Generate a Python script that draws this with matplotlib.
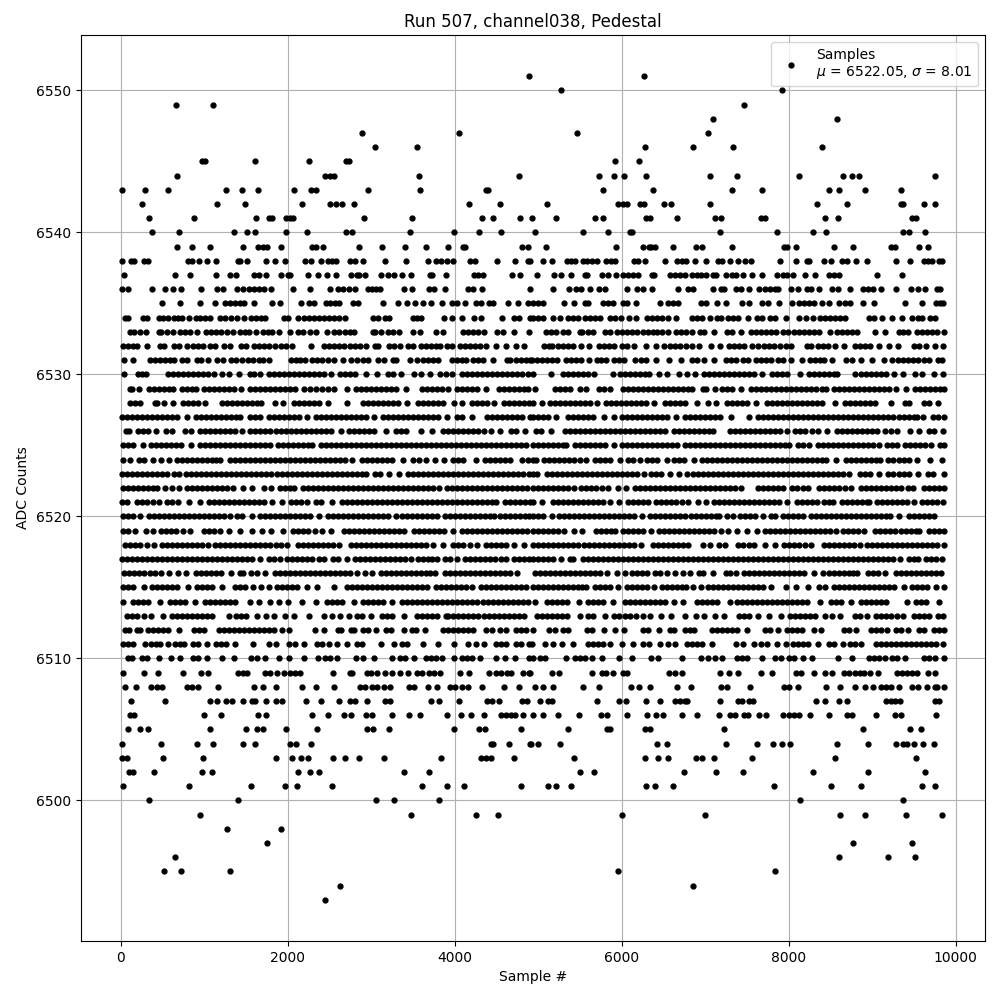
import matplotlib
matplotlib.use('Agg')
import matplotlib.pyplot as plt

# sample numbers, one list per ADC level
x_6551 = [4892, 6272]
x_6550 = [5276, 7916]
x_6549 = [664, 1108, 7460]
x_6548 = [7088, 8576]
x_6547 = [2884, 4048, 5468, 7028]
x_6546 = [3040, 3544, 6284, 6848, 7328, 8396]
x_6545 = [968, 1008, 1612, 2248, 2696, 2736, 5924, 6212]
x_6544 = [676, 2440, 2508, 2548, 3568, 4768, 5732, 5912, 6032, 6296, 7052, 7376, 8120, 8648, 8756, 8840, 9752]
x_6543 = [16, 292, 568, 1264, 1456, 1648, 2068, 2272, 2332, 2956, 3580, 4368, 4396, 5780, 6380, 7316, 7676, 8480, 8600, 8912, 9344]
x_6542 = [256, 1156, 1492, 2164, 2500, 2576, 2644, 2788, 4168, 4540, 5108, 5960, 6020, 6068, 6224, 6272, 6512, 6592, 7052, 8336, 8696, 9344, 9372, 9620, 9752]
x_6541 = [340, 880, 1624, 1780, 1816, 1972, 2028, 2056, 2908, 3484, 4324, 4456, 4780, 4928, 5216, 5684, 5780, 6296, 6340, 6668, 7112, 7184, 7664, 7712, 8432, 8588, 9476, 9524]
x_6540 = [376, 700, 1360, 1516, 1612, 1972, 2224, 2692, 2764, 3460, 3988, 4288, 4552, 4964, 5540, 5840, 6104, 6128, 7172, 7856, 8288, 8444, 9368, 9440, 9632]
x_6539 = [676, 856, 1072, 1468, 1648, 1708, 1756, 1912, 2284, 2332, 2416, 2848, 3124, 3400, 3652, 3916, 4096, 4124, 4804, 4876, 5096, 5936, 6260, 6332, 6356, 6404, 6620, 6884, 6956, 7316, 7940, 7976, 8084, 8540, 8768, 9224, 9272, 9560, 9668]
x_6538 = [14, 124, 160, 280, 328, 808, 856, 940, 1036, 1144, 1408, 1432, 1516, 1744, 1840, 1960, 2200, 2272, 2392, 2476, 2528, 2572, 2740, 2800, 2896, 3160, 3412, 3676, 3772, 3832, 3904, 3976, 4180, 4240, 4504, 4720, 4876, 4900, 5052, 5168, 5348, 5396, 5444, 5540, 5588, 5648, 5708, 5816, 5876, 5924, 6152, 6200, 6284, 6524, 6668, 6728, 6776, 6872, 7004, 7148, 7196, 7292, 7388, 7472, 7544, 7892, 8084, 8216, 8240, 8420, 8504, 8636, 8696, 8804, 8936, 9284, 9452, 9620, 9668, 9716, 9800, 9836]
x_6537 = [40, 652, 832, 1144, 1312, 1384, 1600, 1660, 1744, 1912, 1996, 2020, 2236, 2356, 2464, 2572, 2752, 2824, 2848, 2920, 3112, 3196, 3268, 3364, 3472, 3700, 3724, 3892, 4228, 4276, 4336, 4684, 4780, 4988, 5192, 5276, 5396, 5564, 5588, 5768, 5840, 5936, 6020, 6080, 6140, 6200, 6368, 6392, 6584, 6644, 6704, 6764, 6836, 6896, 6944, 7004, 7088, 7124, 7244, 7316, 7364, 7448, 7556, 7676, 7856, 7928, 7976, 8048, 8192, 8312, 8480, 8540, 8600, 9056, 9356]
x_6536 = [16, 88, 376, 532, 628, 724, 964, 1156, 1228, 1396, 1468, 1540, 1600, 1660, 1720, 1804, 2056, 2260, 2500, 2596, 2656, 2728, 2800, 2956, 3004, 3052, 3100, 3388, 3484, 3688, 3748, 3880, 4156, 4216, 4324, 4900, 5180, 5372, 5456, 5516, 5624, 5732, 5804, 6068, 6188, 6260, 6368, 6680, 6800, 6848, 7088, 7184, 7220, 7364, 7424, 7520, 7640, 7712, 7772, 7832, 7868, 8024, 8108, 8216, 8264, 8360, 8516, 8588, 8732, 8888, 8948, 9008, 9104, 9284, 9464, 9548, 9632, 9776, 9812]
x_6535 = [496, 712, 952, 1132, 1252, 1312, 1372, 1432, 1480, 1600, 1816, 1900, 2152, 2248, 2308, 2452, 2500, 2560, 2608, 2776, 2836, 3136, 3316, 3424, 3520, 3616, 3712, 3844, 3964, 4024, 4120, 4252, 4312, 4408, 4456, 4636, 4756, 4876, 4940, 5000, 5060, 5312, 5432, 5564, 5600, 5780, 5840, 5900, 6020, 6068, 6176, 6464, 6560, 6620, 6680, 6944, 7004, 7136, 7244, 7436, 7520, 7676, 7748, 7880, 8036, 8120, 8180, 8240, 8300, 8396, 8480, 8600, 8672, 8732, 8888, 9020, 9392, 9596, 9764, 9812, 9850]
x_6534 = [52, 88, 268, 316, 460, 508, 568, 640, 688, 736, 820, 904, 952, 1012, 1072, 1192, 1252, 1324, 1396, 1480, 1564, 1624, 1684, 1732, 1948, 1996, 2116, 2188, 2248, 2308, 2368, 2428, 2488, 2548, 2608, 2680, 3016, 3076, 3160, 3208, 3496, 3544, 3592, 3868, 3964, 4084, 4228, 4312, 4568, 4708, 4768, 4900, 4940, 5000, 5060, 5180, 5264, 5360, 5420, 5480, 5564, 5624, 5684, 5744, 5864, 5924, 5996, 6092, 6176, 6308, 6368, 6428, 6488, 6560, 6656, 6836, 6896, 6956, 7052, 7136, 7184, 7268, 7328, 7388, 7508, 7616, 7676, 7772, 7832, 7964, 8120, 8204, 8288, 8372, 8432, 8492, 8552, 8612, 8672, 8960, 9020, 9116, 9236, 9356, 9476, 9548, 9596, 9692, 9752]
x_6533 = [112, 160, 232, 304, 460, 484, 556, 628, 712, 772, 832, 916, 1024, 1084, 1144, 1204, 1276, 1348, 1432, 1492, 1540, 1624, 1708, 1768, 1816, 1888, 2020, 2116, 2176, 2260, 2340, 2464, 2548, 2608, 2680, 2740, 2788, 3016, 3040, 3112, 3196, 3256, 3328, 3496, 3580, 3772, 3856, 4096, 4156, 4216, 4276, 4348, 4504, 4576, 4708, 4888, 5096, 5156, 5216, 5300, 5360, 5504, 5528, 5600, 5660, 5804, 5864, 5948, 6008, 6068, 6128, 6188, 6260, 6320, 6380, 6428, 6488, 6560, 6656, 6716, 6776, 6836, 6932, 6980, 7100, 7256, 7316, 7424, 7544, 7604, 7664, 7724, 7784, 7844, 7928, 7988, 8060, 8120, 8180, 8240, 8300, 8360, 8492, 8576, 8636, 8696, 8756, 8816, 9040, 9160, 9320, 9368, 9428, 9536, 9596, 9656, 9716, 9776, 9860]
x_6532 = [28, 88, 148, 196, 316, 472, 520, 640, 700, 796, 868, 928, 988, 1072, 1132, 1240, 1312, 1444, 1504, 1600, 1660, 1720, 1780, 1840, 1912, 1972, 2044, 2272, 2428, 2488, 2548, 2608, 2668, 2740, 2800, 2860, 2932, 3040, 3076, 3208, 3268, 3340, 3436, 3496, 3592, 3652, 3712, 3772, 3820, 3904, 3964, 4060, 4120, 4180, 4240, 4300, 4372, 4492, 4612, 4732, 4828, 5072, 5132, 5168, 5240, 5300, 5360, 5420, 5516, 5612, 5732, 5792, 5852, 5912, 6008, 6068, 6152, 6296, 6416, 6512, 6584, 6644, 6704, 6776, 6836, 6920, 7064, 7172, 7280, 7340, 7400, 7460, 7556, 7628, 7700, 7760, 7820, 7892, 7964, 8024, 8216, 8264, 8348, 8408, 8468, 8552, 8660, 8792, 8852, 8912, 8972, 9080, 9200, 9308, 9500, 9560, 9644, 9752, 9848]
x_6531 = [40, 148, 352, 412, 472, 532, 592, 640, 736, 796, 916, 964, 1048, 1156, 1228, 1324, 1384, 1456, 1528, 1588, 1660, 1708, 1780, 2032, 2092, 2140, 2200, 2284, 2344, 2404, 2476, 2548, 2656, 2752, 2824, 2896, 2956, 3076, 3148, 3256, 3292, 3460, 3544, 3616, 3676, 3736, 3796, 3964, 4024, 4084, 4132, 4216, 4276, 4336, 4456, 4624, 4660, 4732, 4792, 4852, 4900, 4928, 4988, 5048, 5108, 5168, 5228, 5336, 5396, 5456, 5516, 5612, 5708, 5756, 5816, 5912, 5972, 6032, 6164, 6236, 6296, 6416, 6572, 6716, 6836, 6896, 6980, 7100, 7244, 7304, 7364, 7448, 7508, 7604, 7664, 7724, 7784, 7868, 7928, 8024, 8156, 8252, 8312, 8372, 8420, 8516, 8684, 8756, 8864, 8996, 9140, 9236, 9308, 9368, 9428, 9488, 9548, 9620, 9680, 9788, 9836]
x_6530 = [32, 204, 256, 304, 564, 624, 684, 744, 804, 864, 924, 984, 1044, 1112, 1208, 1296, 1412, 1544, 1600, 1672, 1772, 1832, 1892, 1952, 2012, 2072, 2132, 2192, 2252, 2312, 2372, 2432, 2512, 2624, 2684, 2744, 2804, 2932, 3068, 3204, 3264, 3360, 3512, 3592, 3708, 3828, 3900, 3972, 4084, 4144, 4204, 4264, 4324, 4384, 4444, 4504, 4564, 4624, 4684, 4744, 4804, 4872, 4936, 5148, 5296, 5356, 5416, 5476, 5536, 5596, 5664, 5892, 5984, 6044, 6104, 6164, 6224, 6284, 6324, 6448, 6544, 6688, 6784, 6876, 6988, 7048, 7108, 7168, 7228, 7288, 7348, 7408, 7468, 7528, 7588, 7684, 7796, 7856, 7916, 7984, 8132, 8240, 8300, 8360, 8420, 8480, 8540, 8584, 8792, 8864, 8924, 8984, 9044, 9104, 9164, 9264, 9364, 9516, 9600, 9740, 9848]
x_6529 = [104, 132, 220, 336, 396, 456, 516, 576, 624, 736, 796, 856, 896, 996, 1056, 1116, 1176, 1236, 1296, 1356, 1440, 1544, 1604, 1664, 1724, 1784, 1844, 1904, 1964, 2024, 2088, 2196, 2268, 2340, 2412, 2484, 2552, 2704, 2812, 2872, 2932, 2992, 3052, 3112, 3172, 3240, 3300, 3412, 3604, 3664, 3724, 3784, 3844, 3920, 4024, 4084, 4144, 4204, 4272, 4372, 4524, 4584, 4644, 4704, 4764, 4824, 4872, 4956, 5196, 5256, 5316, 5384, 5496, 5576, 5724, 5784, 5864, 6016, 6076, 6136, 6196, 6256, 6316, 6376, 6436, 6496, 6556, 6616, 6676, 6736, 6796, 6840, 6976, 7004, 7120, 7196, 7256, 7316, 7424, 7544, 7604, 7664, 7724, 7784, 7844, 7904, 7964, 8024, 8084, 8144, 8204, 8264, 8324, 8404, 8452, 8548, 8608, 8668, 8728, 8788, 8848, 8908, 8968, 9028, 9088, 9148, 9208, 9284, 9400, 9516, 9576, 9636, 9696, 9756, 9816, 9856]
x_6528 = [104, 164, 232, 404, 432, 520, 620, 744, 804, 864, 924, 1004, 1212, 1272, 1332, 1392, 1452, 1512, 1572, 1632, 1680, 1848, 1940, 2072, 2132, 2192, 2252, 2312, 2372, 2480, 2708, 2904, 2964, 3024, 3084, 3144, 3204, 3264, 3324, 3432, 3564, 3624, 3684, 3744, 3804, 3864, 3992, 4088, 4204, 4264, 4324, 4384, 4472, 4584, 4644, 4704, 4764, 4824, 4884, 4936, 5044, 5144, 5204, 5264, 5324, 5384, 5444, 5504, 5564, 5624, 5704, 5816, 5876, 5936, 5996, 6056, 6116, 6176, 6236, 6296, 6392, 6516, 6576, 6636, 6696, 6756, 6896, 7036, 7124, 7256, 7316, 7376, 7436, 7496, 7612, 7736, 7796, 7856, 7916, 7976, 8036, 8096, 8156, 8216, 8276, 8336, 8396, 8552, 8676, 8736, 8796, 8856, 8916, 8976, 9036, 9232, 9396, 9444, 9624, 9684, 9792]
x_6527 = [16, 76, 136, 196, 256, 316, 376, 436, 496, 556, 616, 676, 792, 896, 956, 1016, 1076, 1136, 1196, 1256, 1316, 1376, 1432, 1544, 1604, 1672, 1776, 1836, 1896, 1956, 2016, 2076, 2136, 2232, 2336, 2396, 2456, 2516, 2576, 2636, 2696, 2756, 2816, 2876, 2936, 3032, 3144, 3204, 3264, 3324, 3384, 3444, 3504, 3564, 3624, 3684, 3744, 3804, 3904, 4024, 4084, 4212, 4384, 4444, 4504, 4564, 4624, 4684, 4744, 4804, 4900, 4936, 4996, 5056, 5116, 5216, 5356, 5416, 5476, 5536, 5596, 5656, 5792, 5912, 6008, 6068, 6128, 6188, 6248, 6308, 6368, 6428, 6488, 6548, 6656, 6756, 6816, 6876, 6936, 6996, 7056, 7116, 7176, 7304, 7520, 7636, 7696, 7756, 7816, 7876, 7936, 7996, 8056, 8116, 8176, 8236, 8296, 8356, 8416, 8476, 8536, 8596, 8656, 8716, 8776, 8836, 8896, 8956, 9016, 9076, 9136, 9196, 9256, 9316, 9376, 9436, 9496, 9536, 9612, 9724, 9784, 9860]
x_6526 = [64, 100, 204, 264, 324, 424, 536, 612, 764, 840, 944, 1004, 1064, 1124, 1184, 1244, 1304, 1364, 1452, 1552, 1612, 1672, 1732, 1792, 1852, 1912, 1972, 2032, 2092, 2152, 2212, 2272, 2332, 2392, 2452, 2512, 2632, 2736, 2796, 2856, 2916, 2976, 3036, 3172, 3296, 3356, 3416, 3592, 3728, 3864, 3924, 3984, 4044, 4104, 4164, 4224, 4284, 4344, 4432, 4540, 4672, 4732, 4844, 4968, 5028, 5152, 5316, 5376, 5436, 5496, 5556, 5616, 5676, 5736, 5796, 5856, 5916, 5976, 6036, 6096, 6156, 6216, 6276, 6336, 6396, 6456, 6524, 6628, 6688, 6748, 6808, 6868, 6928, 6988, 7048, 7096, 7296, 7356, 7416, 7476, 7536, 7596, 7656, 7716, 7776, 7836, 7896, 7976, 8080, 8140, 8200, 8280, 8356, 8464, 8576, 8636, 8696, 8756, 8816, 8876, 8936, 8996, 9056, 9156, 9224, 9300, 9448, 9564, 9676, 9736, 9844]
x_6525 = [24, 84, 144, 260, 364, 424, 484, 544, 604, 664, 724, 844, 944, 1004, 1064, 1124, 1184, 1244, 1304, 1364, 1424, 1484, 1544, 1604, 1664, 1724, 1784, 1884, 1944, 2004, 2064, 2124, 2184, 2244, 2292, 2392, 2452, 2512, 2572, 2632, 2692, 2752, 2812, 2872, 2932, 2992, 3052, 3112, 3172, 3232, 3292, 3352, 3412, 3472, 3532, 3592, 3652, 3712, 3772, 3832, 3892, 3952, 4012, 4072, 4132, 4192, 4252, 4312, 4372, 4432, 4492, 4552, 4612, 4672, 4732, 4792, 4852, 4936, 4996, 5056, 5116, 5176, 5236, 5296, 5332, 5436, 5496, 5556, 5616, 5676, 5736, 5804, 5908, 6008, 6068, 6128, 6188, 6248, 6308, 6368, 6428, 6488, 6548, 6608, 6664, 6756, 6816, 6876, 6936, 6996, 7056, 7116, 7176, 7236, 7296, 7356, 7416, 7476, 7536, 7596, 7656, 7716, 7776, 7836, 7896, 7956, 8004, 8108, 8168, 8244, 8348, 8408, 8468, 8528, 8588, 8648, 8708, 8768, 8828, 8888, 8948, 9008, 9084, 9184, 9240, 9296, 9396, 9456, 9516, 9576, 9636, 9704, 9808, 9860]
x_6524 = [24, 112, 216, 276, 380, 484, 580, 676, 736, 796, 856, 916, 976, 1036, 1096, 1140, 1184, 1304, 1364, 1424, 1484, 1544, 1604, 1664, 1724, 1784, 1844, 1904, 1964, 2024, 2084, 2144, 2204, 2264, 2324, 2384, 2444, 2504, 2564, 2624, 2684, 2772, 2884, 2944, 3004, 3064, 3124, 3184, 3244, 3380, 3496, 3572, 3652, 3764, 3872, 3984, 4044, 4104, 4252, 4356, 4416, 4476, 4536, 4596, 4656, 4800, 4880, 4940, 4968, 5068, 5128, 5188, 5248, 5308, 5368, 5428, 5500, 5576, 5680, 5740, 5800, 5860, 5984, 6076, 6136, 6224, 6308, 6368, 6428, 6544, 6632, 6692, 6752, 6864, 6964, 7024, 7084, 7144, 7204, 7264, 7324, 7384, 7444, 7504, 7564, 7624, 7684, 7744, 7804, 7864, 7924, 7984, 8044, 8104, 8164, 8224, 8284, 8344, 8400, 8444, 8572, 8684, 8744, 8804, 8864, 8924, 8984, 9044, 9096, 9196, 9256, 9316, 9376, 9436, 9532, 9696, 9836]
x_6523 = [16, 76, 136, 196, 256, 316, 376, 436, 496, 556, 632, 692, 784, 844, 904, 964, 1024, 1084, 1144, 1204, 1264, 1324, 1384, 1444, 1504, 1564, 1624, 1684, 1744, 1804, 1864, 1924, 1984, 2044, 2104, 2164, 2224, 2284, 2344, 2404, 2464, 2524, 2584, 2644, 2704, 2764, 2824, 2884, 2932, 3044, 3104, 3212, 3332, 3436, 3496, 3556, 3616, 3676, 3736, 3796, 3856, 3916, 3976, 4036, 4096, 4156, 4216, 4276, 4336, 4396, 4456, 4516, 4576, 4636, 4696, 4756, 4816, 4888, 4932, 4988, 5104, 5164, 5224, 5284, 5344, 5404, 5464, 5524, 5584, 5644, 5704, 5764, 5824, 5884, 5944, 6004, 6064, 6124, 6184, 6264, 6356, 6416, 6476, 6584, 6688, 6788, 6848, 6908, 6968, 7028, 7088, 7148, 7208, 7268, 7328, 7388, 7448, 7508, 7568, 7628, 7688, 7748, 7808, 7868, 7928, 7988, 8048, 8108, 8168, 8228, 8288, 8348, 8408, 8468, 8528, 8588, 8648, 8724, 8856, 8916, 8976, 9084, 9196, 9256, 9316, 9376, 9436, 9544, 9668, 9728, 9860]
x_6522 = [24, 84, 144, 204, 264, 324, 384, 432, 528, 610, 692, 792, 852, 912, 972, 1032, 1092, 1152, 1212, 1272, 1344, 1460, 1576, 1716, 1804, 1904, 1964, 2020, 2072, 2184, 2244, 2304, 2364, 2424, 2484, 2544, 2604, 2664, 2724, 2784, 2844, 2904, 2964, 3024, 3084, 3144, 3204, 3264, 3324, 3384, 3444, 3504, 3564, 3624, 3684, 3744, 3812, 3904, 3964, 4024, 4084, 4144, 4204, 4264, 4324, 4384, 4444, 4504, 4564, 4624, 4684, 4744, 4804, 4864, 4936, 4996, 5056, 5116, 5176, 5236, 5296, 5360, 5424, 5516, 5576, 5636, 5696, 5766, 5836, 5956, 6052, 6160, 6220, 6280, 6340, 6400, 6460, 6520, 6580, 6640, 6700, 6760, 6820, 6880, 6940, 7000, 7060, 7120, 7180, 7240, 7300, 7360, 7424, 7636, 7696, 7756, 7816, 7876, 7936, 8036, 8096, 8166, 8236, 8368, 8428, 8488, 8548, 8608, 8680, 8752, 8864, 8924, 8984, 9044, 9104, 9164, 9224, 9284, 9344, 9424, 9484, 9616, 9676, 9736, 9796, 9856]
x_6521 = [14, 76, 192, 252, 312, 384, 460, 552, 610, 680, 816, 952, 1056, 1116, 1176, 1236, 1296, 1356, 1416, 1476, 1536, 1596, 1656, 1712, 1812, 1932, 2032, 2092, 2160, 2232, 2332, 2400, 2528, 2644, 2704, 2764, 2824, 2884, 2944, 3004, 3064, 3124, 3184, 3244, 3304, 3364, 3424, 3484, 3544, 3604, 3664, 3724, 3784, 3844, 3904, 3964, 4024, 4084, 4144, 4204, 4264, 4324, 4384, 4444, 4492, 4604, 4664, 4724, 4784, 4844, 4900, 4936, 5044, 5176, 5236, 5296, 5356, 5416, 5476, 5536, 5596, 5656, 5716, 5776, 5864, 5968, 6076, 6136, 6196, 6256, 6316, 6416, 6476, 6536, 6596, 6656, 6720, 6792, 6908, 7008, 7108, 7168, 7228, 7288, 7348, 7408, 7468, 7528, 7588, 7648, 7708, 7768, 7828, 7884, 7980, 8096, 8156, 8216, 8276, 8336, 8424, 8480, 8536, 8636, 8696, 8756, 8816, 8876, 8936, 8964, 9056, 9116, 9176, 9236, 9296, 9356, 9416, 9504, 9596, 9656, 9716, 9776, 9844]
x_6520 = [24, 84, 144, 232, 336, 396, 456, 516, 576, 636, 696, 756, 816, 876, 936, 996, 1056, 1116, 1176, 1236, 1312, 1392, 1452, 1572, 1664, 1724, 1784, 1844, 1904, 1964, 2024, 2084, 2144, 2204, 2264, 2372, 2484, 2544, 2604, 2664, 2724, 2784, 2844, 2904, 2964, 3024, 3084, 3144, 3204, 3292, 3372, 3432, 3492, 3552, 3612, 3672, 3732, 3792, 3884, 3944, 4004, 4064, 4124, 4184, 4244, 4304, 4364, 4424, 4472, 4540, 4600, 4660, 4720, 4780, 4840, 4890, 4936, 4996, 5056, 5164, 5248, 5308, 5368, 5428, 5488, 5548, 5608, 5668, 5728, 5788, 5848, 5908, 5968, 6028, 6088, 6148, 6244, 6344, 6404, 6464, 6524, 6584, 6644, 6704, 6764, 6824, 6884, 6944, 7004, 7064, 7124, 7164, 7256, 7336, 7416, 7476, 7536, 7596, 7696, 7784, 7832, 7928, 7988, 8048, 8108, 8172, 8264, 8324, 8384, 8444, 8504, 8564, 8624, 8684, 8744, 8804, 8864, 8924, 8984, 9044, 9104, 9164, 9216, 9324, 9436, 9496, 9556, 9616, 9676, 9736]
x_6519 = [24, 84, 172, 296, 380, 484, 544, 604, 664, 744, 824, 992, 1052, 1120, 1184, 1292, 1428, 1568, 1688, 1804, 1940, 2056, 2116, 2176, 2236, 2320, 2412, 2520, 2672, 2732, 2792, 2852, 2912, 2972, 3032, 3092, 3152, 3212, 3272, 3332, 3392, 3512, 3572, 3632, 3692, 3752, 3812, 3872, 3984, 4088, 4148, 4208, 4268, 4328, 4388, 4448, 4508, 4568, 4628, 4688, 4748, 4808, 4868, 4936, 4996, 5056, 5116, 5176, 5240, 5304, 5428, 5524, 5688, 5748, 5808, 5868, 5924, 6016, 6076, 6136, 6196, 6256, 6352, 6448, 6508, 6568, 6628, 6688, 6748, 6808, 6868, 6928, 6988, 7048, 7104, 7184, 7272, 7384, 7496, 7624, 7716, 7776, 7836, 7896, 7956, 8016, 8076, 8136, 8196, 8256, 8316, 8376, 8436, 8496, 8564, 8656, 8716, 8776, 8836, 8904, 9040, 9100, 9160, 9220, 9280, 9340, 9400, 9460, 9520, 9564, 9676, 9736, 9796, 9856]
x_6518 = [52, 112, 172, 232, 312, 392, 496, 556, 616, 676, 736, 796, 856, 916, 976, 1044, 1132, 1192, 1252, 1312, 1372, 1432, 1492, 1552, 1612, 1672, 1732, 1792, 1852, 1912, 1992, 2124, 2184, 2244, 2304, 2364, 2424, 2484, 2544, 2612, 2752, 2812, 2872, 2932, 2992, 3052, 3112, 3172, 3232, 3292, 3352, 3412, 3472, 3532, 3592, 3652, 3744, 3856, 3984, 4044, 4104, 4184, 4264, 4368, 4428, 4488, 4548, 4608, 4704, 4828, 4936, 4996, 5056, 5116, 5176, 5236, 5296, 5356, 5416, 5472, 5548, 5608, 5668, 5728, 5788, 5848, 5908, 5968, 6028, 6088, 6148, 6232, 6376, 6436, 6496, 6556, 6616, 6676, 6736, 6792, 6968, 7056, 7164, 7232, 7396, 7456, 7520, 7584, 7716, 7840, 7948, 8008, 8068, 8128, 8200, 8272, 8424, 8484, 8544, 8604, 8664, 8724, 8784, 8856, 8936, 8996, 9056, 9116, 9176, 9236, 9296, 9356, 9416, 9476, 9536, 9596, 9656, 9716, 9776, 9856]
x_6517 = [16, 76, 136, 196, 256, 316, 376, 436, 496, 556, 616, 676, 736, 796, 856, 916, 976, 1036, 1096, 1156, 1216, 1276, 1336, 1396, 1456, 1516, 1576, 1672, 1776, 1836, 1904, 1992, 2052, 2112, 2172, 2232, 2292, 2376, 2432, 2536, 2596, 2712, 2804, 2864, 2924, 2984, 3044, 3104, 3164, 3224, 3284, 3344, 3404, 3472, 3556, 3616, 3676, 3732, 3792, 3880, 3940, 4024, 4120, 4180, 4240, 4300, 4360, 4420, 4480, 4550, 4612, 4704, 4764, 4824, 4884, 4936, 4996, 5056, 5116, 5176, 5276, 5376, 5416, 5536, 5596, 5656, 5716, 5776, 5836, 5896, 5956, 6016, 6076, 6136, 6196, 6256, 6316, 6376, 6436, 6496, 6556, 6616, 6676, 6736, 6796, 6856, 6916, 6976, 7036, 7096, 7156, 7216, 7276, 7336, 7396, 7456, 7516, 7576, 7636, 7696, 7756, 7816, 7876, 7936, 7996, 8056, 8116, 8176, 8236, 8296, 8356, 8416, 8476, 8536, 8596, 8656, 8716, 8776, 8836, 8896, 8956, 9016, 9076, 9136, 9196, 9256, 9336, 9436, 9496, 9552, 9648, 9708, 9768, 9832]
x_6516 = [32, 92, 152, 212, 272, 352, 412, 480, 576, 684, 784, 904, 964, 1024, 1084, 1140, 1200, 1316, 1424, 1464, 1556, 1628, 1732, 1844, 1904, 1964, 2024, 2084, 2144, 2204, 2264, 2324, 2384, 2444, 2504, 2564, 2624, 2684, 2744, 2824, 2924, 3012, 3112, 3172, 3232, 3292, 3352, 3412, 3472, 3532, 3592, 3652, 3708, 3768, 3884, 3944, 4004, 4064, 4124, 4184, 4244, 4304, 4364, 4424, 4484, 4544, 4604, 4664, 4744, 4956, 5016, 5076, 5136, 5196, 5256, 5316, 5376, 5436, 5496, 5556, 5616, 5676, 5736, 5824, 5944, 6044, 6128, 6188, 6248, 6304, 6404, 6464, 6544, 6640, 6736, 6812, 6920, 6968, 7088, 7248, 7300, 7364, 7468, 7528, 7588, 7648, 7708, 7768, 7828, 7888, 7948, 8008, 8068, 8120, 8184, 8300, 8412, 8488, 8548, 8608, 8668, 8728, 8770, 8824, 8956, 9016, 9076, 9156, 9288, 9348, 9408, 9468, 9528, 9588, 9648, 9708, 9768, 9824]
x_6515 = [24, 84, 144, 280, 376, 436, 496, 556, 616, 676, 800, 912, 972, 1032, 1092, 1212, 1364, 1424, 1484, 1584, 1680, 1780, 1872, 1932, 1992, 2052, 2112, 2224, 2348, 2556, 2704, 2764, 2824, 2884, 2944, 3004, 3064, 3124, 3184, 3244, 3304, 3364, 3424, 3484, 3544, 3604, 3672, 3772, 3832, 3892, 3952, 4012, 4072, 4132, 4212, 4312, 4372, 4432, 4492, 4552, 4612, 4672, 4732, 4792, 4852, 4936, 4996, 5056, 5116, 5176, 5236, 5296, 5356, 5416, 5476, 5520, 5576, 5680, 5740, 5800, 5860, 5952, 6064, 6124, 6184, 6244, 6304, 6392, 6488, 6548, 6608, 6668, 6720, 6776, 6856, 6944, 7036, 7096, 7156, 7216, 7276, 7336, 7396, 7456, 7516, 7576, 7636, 7696, 7784, 7968, 8084, 8228, 8368, 8432, 8548, 8608, 8668, 8728, 8788, 8848, 8908, 8968, 9028, 9088, 9148, 9208, 9268, 9376, 9476, 9536, 9596, 9656, 9768, 9856]
x_6514 = [28, 144, 204, 264, 324, 464, 584, 644, 704, 764, 892, 1004, 1064, 1124, 1184, 1244, 1304, 1364, 1544, 1656, 1784, 1892, 2000, 2164, 2332, 2472, 2532, 2592, 2652, 2792, 2896, 2956, 3016, 3076, 3136, 3252, 3372, 3432, 3492, 3552, 3612, 3672, 3732, 3792, 3852, 3912, 3972, 4032, 4092, 4152, 4212, 4272, 4332, 4392, 4452, 4512, 4572, 4632, 4692, 4752, 4812, 4872, 4960, 5104, 5164, 5224, 5284, 5344, 5484, 5596, 5656, 5716, 5776, 5896, 6036, 6096, 6156, 6216, 6276, 6336, 6396, 6456, 6516, 6624, 6740, 6896, 6956, 7016, 7076, 7136, 7296, 7384, 7444, 7504, 7564, 7624, 7684, 7744, 7804, 7864, 7924, 7984, 8044, 8104, 8164, 8224, 8376, 8504, 8564, 8624, 8744, 8864, 8924, 8984, 9044, 9104, 9164, 9416, 9524, 9584, 9644, 9804]
x_6513 = [72, 132, 192, 272, 364, 504, 612, 672, 732, 792, 852, 912, 972, 1032, 1092, 1292, 1376, 1436, 1496, 1632, 1744, 1832, 1960, 2076, 2248, 2436, 2528, 2628, 2728, 2828, 2888, 3000, 3132, 3192, 3252, 3392, 3552, 3612, 3672, 3732, 3792, 3892, 3924, 3984, 4044, 4104, 4164, 4224, 4284, 4344, 4404, 4464, 4524, 4584, 4644, 4704, 4764, 4832, 4984, 5044, 5104, 5164, 5224, 5284, 5344, 5504, 5596, 5656, 5804, 5908, 5968, 6040, 6096, 6168, 6260, 6340, 6476, 6592, 6760, 6888, 6984, 7116, 7224, 7408, 7468, 7530, 7632, 7768, 7904, 8016, 8076, 8136, 8196, 8256, 8320, 8432, 8520, 8620, 8800, 8860, 8936, 9048, 9108, 9168, 9228, 9300, 9364, 9496, 9556, 9616, 9676, 9792, 9850]
x_6512 = [44, 92, 196, 232, 328, 388, 448, 508, 568, 692, 872, 930, 992, 1176, 1236, 1296, 1356, 1416, 1476, 1536, 1596, 1656, 1716, 1776, 1832, 1924, 2012, 2324, 2432, 2596, 2632, 2752, 2792, 2896, 2960, 3056, 3176, 3236, 3392, 3488, 3540, 3648, 3856, 3916, 3976, 4036, 4096, 4156, 4216, 4372, 4448, 4540, 4608, 4732, 4792, 4852, 4940, 5132, 5200, 5300, 5360, 5588, 5640, 5788, 5920, 6032, 6260, 6320, 6452, 6576, 6624, 6756, 6816, 6864, 7076, 7136, 7196, 7256, 7316, 7376, 7496, 7716, 7772, 7868, 7984, 8044, 8104, 8164, 8300, 8388, 8664, 8724, 8804, 8984, 9044, 9104, 9184, 9288, 9348, 9424, 9556, 9624, 9736, 9796, 9860]
x_6511 = [24, 84, 144, 292, 364, 424, 472, 564, 644, 704, 752, 864, 924, 1032, 1144, 1204, 1264, 1372, 1588, 1772, 1860, 2012, 2080, 2196, 2352, 2412, 2492, 2592, 2708, 2824, 2892, 3116, 3276, 3368, 3428, 3624, 3800, 3996, 4156, 4260, 4348, 4496, 4556, 4616, 4732, 4788, 4888, 4928, 5080, 5180, 5288, 5420, 5596, 5656, 5716, 5776, 5864, 6000, 6140, 6256, 6324, 6456, 6552, 6640, 6784, 6844, 6904, 6964, 7076, 7364, 7452, 7580, 7668, 7744, 7864, 7968, 8056, 8116, 8176, 8236, 8356, 8480, 8540, 8648, 8732, 8800, 8872, 9048, 9108, 9168, 9228, 9288, 9348, 9408, 9468, 9528, 9588, 9648, 9708, 9768, 9844]
x_6510 = [84, 132, 256, 316, 460, 600, 712, 864, 924, 1032, 1208, 1356, 1564, 1636, 1732, 1888, 2008, 2188, 2356, 2448, 2508, 2588, 2812, 2896, 3028, 3248, 3344, 3404, 3512, 3652, 3712, 3772, 3852, 3988, 4088, 4148, 4208, 4308, 4488, 4604, 4720, 4888, 4936, 5020, 5080, 5332, 5440, 5500, 5560, 5640, 5768, 5972, 6124, 6352, 6440, 6720, 6944, 7036, 7120, 7200, 7376, 7440, 7500, 7684, 7836, 7904, 8000, 8060, 8168, 8280, 8596, 8756, 8960, 9020, 9080, 9160, 9240, 9300, 9388, 9620, 9680, 9752, 9860]
x_6509 = [28, 280, 448, 748, 964, 1048, 1408, 1468, 1516, 1728, 1788, 1868, 1948, 2028, 2088, 2148, 2540, 2744, 2772, 2948, 2996, 3068, 3160, 3248, 3340, 3436, 3548, 3608, 3688, 3748, 3820, 4060, 4168, 4408, 4488, 4548, 4628, 4668, 4816, 4888, 4900, 5168, 5252, 5648, 5768, 5812, 5900, 6012, 6060, 6572, 6644, 6728, 7172, 7284, 7388, 7664, 7796, 8088, 8148, 8300, 8440, 8524, 8660, 8720, 8800, 8860, 8900, 8980, 9068, 9300, 9360, 9420, 9480, 9540, 9668, 9752]
x_6508 = [48, 180, 356, 428, 488, 796, 848, 928, 1168, 1600, 1708, 1852, 2168, 2332, 2548, 2860, 2928, 3008, 3068, 3148, 3220, 3448, 3508, 3676, 3784, 3948, 4008, 4084, 4156, 4328, 4592, 4768, 4960, 5060, 5180, 5540, 5724, 6112, 6212, 6344, 6668, 6832, 7184, 7260, 7532, 7940, 8000, 8108, 8444, 8612, 8792, 8916, 9012, 9108, 9172, 9228, 9320, 9480, 9552, 9660, 9752, 9780, 9860]
x_6507 = [124, 532, 1072, 1156, 1264, 1336, 1468, 1576, 1612, 1744, 1852, 1924, 2216, 2392, 2608, 2748, 2808, 2944, 3168, 3228, 3716, 3808, 4048, 4388, 4448, 4528, 4808, 4868, 5020, 5120, 5160, 5708, 5972, 6056, 6296, 6464, 6640, 6700, 6760, 6788, 7180, 7388, 7436, 7520, 7568, 8324, 8432, 8600, 8696, 9164, 9228, 9280, 9332, 9756, 9804]
x_6506 = [108, 160, 1000, 1204, 1648, 1744, 2288, 2476, 2668, 2752, 2932, 3004, 3244, 3448, 3580, 3904, 4072, 4192, 4348, 4548, 4608, 4668, 4720, 4812, 4940, 5056, 5240, 5492, 5756, 5828, 6068, 6308, 6416, 6500, 6728, 6896, 7160, 7300, 7360, 7460, 7508, 7640, 7732, 7928, 8000, 8060, 8120, 8252, 8480, 8700, 8756, 9044, 9272, 9344, 9764]
x_6505 = [88, 232, 328, 1072, 1504, 1636, 1708, 1972, 2344, 2944, 3016, 3208, 3988, 4288, 4360, 4792, 5360, 5828, 5864, 6276, 6344, 7220, 8892, 9452, 9580]
x_6504 = [16, 484, 916, 1108, 1468, 1612, 2020, 2092, 2272, 4428, 4460, 4648, 4900, 4916, 5000, 5264, 6428, 6548, 7244, 7616, 7808, 7916, 8012, 8576, 8948, 9284, 9368, 9420, 9500, 9608, 9740]
x_6503 = [14, 68, 508, 988, 1852, 2044, 2152, 2236, 2536, 2688, 2848, 3148, 3832, 4312, 4376, 4436, 4708, 5432, 6284, 6440, 6560, 6884, 6956, 7100, 7556, 8552, 9524]
x_6502 = [100, 148, 400, 976, 1096, 2116, 2260, 2368, 3388, 3688, 5504, 5672, 6752, 7124, 7448, 8288, 8948, 9632]
x_6501 = [28, 820, 1564, 1960, 2104, 2524, 3604, 3904, 4108, 4792, 5120, 5216, 5396, 6296, 6404, 6620, 7820, 8504, 8864, 9596, 9752]
x_6500 = [340, 1408, 3052, 3268, 3812, 8132, 9368]
x_6499 = [952, 3472, 4252, 4516, 6008, 6992, 8612, 8912, 9404, 9836]
x_6498 = [1276, 1912]
x_6497 = [1756, 8768, 9476]
x_6496 = [652, 8600, 9188, 9512]
x_6495 = [520, 724, 1312, 5960, 7832]
x_6494 = [2620, 6848]
x_6493 = [2440]

levels = [6551, 6550, 6549, 6548, 6547, 6546, 6545, 6544, 6543, 6542, 6541, 6540,
          6539, 6538, 6537, 6536, 6535, 6534, 6533, 6532, 6531, 6530, 6529, 6528,
          6527, 6526, 6525, 6524, 6523, 6522, 6521, 6520, 6519, 6518, 6517, 6516,
          6515, 6514, 6513, 6512, 6511, 6510, 6509, 6508, 6507, 6506, 6505, 6504,
          6503, 6502, 6501, 6500, 6499, 6498, 6497, 6496, 6495, 6494, 6493]
rows = [x_6551, x_6550, x_6549, x_6548, x_6547, x_6546, x_6545, x_6544, x_6543, x_6542, x_6541, x_6540,
        x_6539, x_6538, x_6537, x_6536, x_6535, x_6534, x_6533, x_6532, x_6531, x_6530, x_6529, x_6528,
        x_6527, x_6526, x_6525, x_6524, x_6523, x_6522, x_6521, x_6520, x_6519, x_6518, x_6517, x_6516,
        x_6515, x_6514, x_6513, x_6512, x_6511, x_6510, x_6509, x_6508, x_6507, x_6506, x_6505, x_6504,
        x_6503, x_6502, x_6501, x_6500, x_6499, x_6498, x_6497, x_6496, x_6495, x_6494, x_6493]

xs = []
ys = []
for level, row in zip(levels, rows):
    xs.extend(row)
    ys.extend([level] * len(row))

plt.figure(figsize=(10, 10))
plt.plot(xs, ys, 'k.', ms=7, label='Samples\n$\\mu$ = 6522.05, $\\sigma$ = 8.01')
plt.title('Run 507, channel038, Pedestal')
plt.xlabel('Sample #')
plt.ylabel('ADC Counts')
plt.ticklabel_format(useOffset=False)
plt.grid(True)
plt.legend(loc='upper right')
plt.subplots_adjust(left=0.081, right=0.985, top=0.965, bottom=0.059)
plt.savefig('out.png', dpi=100)
